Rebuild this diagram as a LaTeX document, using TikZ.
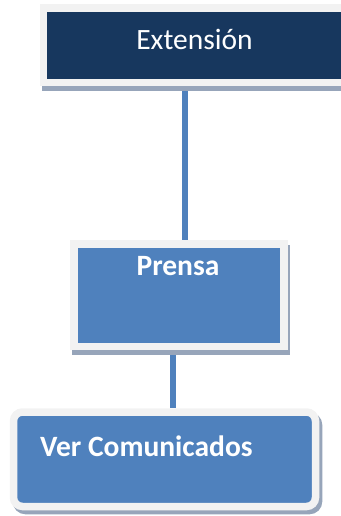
\documentclass[tikz,border=0pt]{standalone}
\usepackage{fontspec}
\setmainfont{Carlito}
\usetikzlibrary{shadows,backgrounds}
\definecolor{navy}{HTML}{17375E}
\definecolor{steel}{HTML}{4F81BD}
\definecolor{frame}{HTML}{F2F2F2}
\definecolor{shadowc}{HTML}{97A5BA}
\begin{document}
\begin{tikzpicture}[x=1pt,y=-1pt,
  box/.style={draw=frame, line width=7.5pt, inner sep=0pt},
  lbl/.style={text=white, inner sep=0pt, font=\fontsize{29.5}{35}\selectfont},
  conn/.style={draw=steel, line width=5.5pt}]
\useasboundingbox (0,0) rectangle (340,516);

% boxes
\node[box, fill=navy, minimum width=316.5pt, minimum height=74.5pt,
  drop shadow={draw=shadowc, fill=shadowc, line width=7.5pt, opacity=1,
    shadow xshift=2pt, shadow yshift=-5pt}] (ext) at (201.75,45.25) {};
\node[box, fill=steel, minimum width=210pt, minimum height=102.5pt,
  drop shadow={draw=shadowc, fill=shadowc, line width=7.5pt, opacity=1,
    shadow xshift=2pt, shadow yshift=-5pt}] (prensa) at (179,295.25) {};
\node[box, fill=steel, rounded corners=9pt, minimum width=302pt, minimum height=94.5pt,
  drop shadow={draw=shadowc, fill=shadowc, line width=7.5pt, opacity=1,
    shadow xshift=3pt, shadow yshift=-4pt}] (ver) at (164.5,459.25) {};

% labels
\node[lbl, anchor=base] (extlabel) at (194.5,50) {Extensión};
\node[lbl, anchor=base, font=\fontsize{29.5}{35}\selectfont\bfseries] (prensalabel) at (178,275) {Prensa};
\node[lbl, anchor=base west, font=\fontsize{29.5}{35}\selectfont\bfseries] (verlabel) at (40,456.5) {Ver Comunicados};

% connectors
\coordinate (c1) at (185,0);
\coordinate (c2) at (173,0);
\begin{scope}[on background layer]
  \draw[conn] (ext.south -| c1) -- (prensa.north -| c1);
  \draw[conn] (prensa.south -| c2) -- (ver.north -| c2);
\end{scope}
\end{tikzpicture}
\end{document}
